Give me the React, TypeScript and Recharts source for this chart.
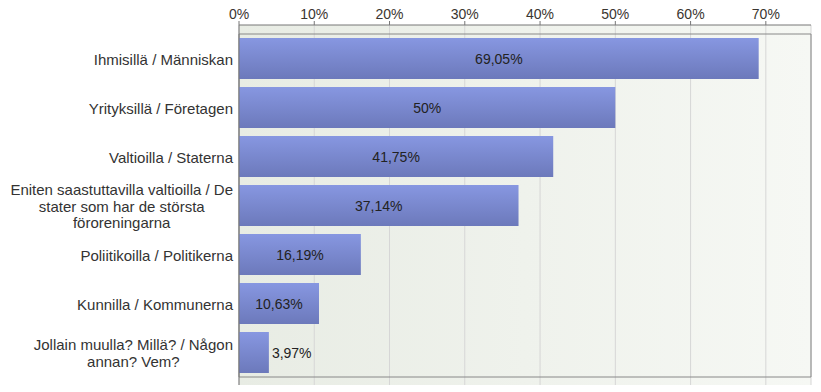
import { BarChart, Bar, XAxis, YAxis, CartesianGrid, ReferenceArea, LabelList } from "recharts";

const categories = [
  "Ihmisillä / Människan",
  "Yrityksillä / Företagen",
  "Valtioilla / Staterna",
  "Eniten saastuttavilla valtioilla / De\nstater som har de största\nföroreningarna",
  "Poliitikoilla / Politikerna",
  "Kunnilla / Kommunerna",
  "Jollain muulla? Millä? / Någon\nannan? Vem?",
];
const values = [69.05, 50, 41.75, 37.14, 16.19, 10.63, 3.97];
const xTicks = [0, 10, 20, 30, 40, 50, 60, 70];

const FONT = "Liberation Sans, Arial, sans-serif";
const CAT_SIZE = 15;

const data = categories.map((name, i) => ({ name, value: values[i] }));

// measure text so that multi-line labels are centred in a right-aligned block
const canvas = typeof document !== "undefined" ? document.createElement("canvas") : null;
const ctx = canvas ? canvas.getContext("2d") : null;
function textWidth(s: string) {
  if (!ctx) return s.length * 7.5;
  ctx.font = `${CAT_SIZE}px 'Liberation Sans'`;
  return ctx.measureText(s).width;
}

const fmt = (v: number) => `${String(v).replace(".", ",")}%`;

function CategoryTick(props: any) {
  const { x, y, payload } = props;
  const lines: string[] = String(payload.value).split("\n");
  const maxW = Math.max(...lines.map(textWidth));
  const cx = x - maxW / 2;
  const lh = 16.5;
  const startY = y - ((lines.length - 1) * lh) / 2;
  return (
    <text x={cx} textAnchor="middle" fill="#333" fontSize={CAT_SIZE} fontFamily={FONT} dominantBaseline="central">
      {lines.map((l, i) => (
        <tspan key={i} x={cx} y={startY + i * lh}>
          {l}
        </tspan>
      ))}
    </text>
  );
}

function ValueLabel(props: any) {
  const { x, y, width, height, value } = props;
  const outside = width < 40;
  return (
    <text
      x={outside ? x + width + 3 : x + width / 2}
      y={y + height / 2}
      textAnchor={outside ? "start" : "middle"}
      dominantBaseline="central"
      fill="#222"
      fontSize={14}
      fontFamily={FONT}
    >
      {fmt(value)}
    </text>
  );
}

export default function App() {
  return (
    <div style={{ position: "absolute", left: 0, top: 0, width: 821, height: 392, background: "#fff" }}>
      <BarChart
        width={821}
        height={392}
        data={data}
        layout="vertical"
        margin={{ top: 0, right: 10, left: 0, bottom: 7 }}
        barSize={41}
      >
        <defs>
          <linearGradient id="bg" x1="0" y1="0" x2="1" y2="0">
            <stop offset="0%" stopColor="#e8ece4" />
            <stop offset="100%" stopColor="#f6f8f4" />
          </linearGradient>
          <linearGradient id="barFill" x1="0" y1="0" x2="0" y2="1">
            <stop offset="0%" stopColor="#8797e1" />
            <stop offset="100%" stopColor="#6c79bb" />
          </linearGradient>
        </defs>
        <CartesianGrid horizontal={false} stroke="#d6d6d6" fill="url(#bg)" />
        <XAxis
          type="number"
          orientation="top"
          domain={[0, 76]}
          ticks={xTicks}
          tickFormatter={(v: number) => `${v}%`}
          height={25}
          tickSize={4}
          axisLine={{ stroke: "#777" }}
          tickLine={{ stroke: "#777" }}
          tick={{ fill: "#3a3530", fontSize: 14, fontFamily: FONT }}
        />
        <YAxis
          type="category"
          dataKey="name"
          width={239}
          axisLine={{ stroke: "#777" }}
          tickLine={false}
          tickMargin={0}
          padding={{ top: 9, bottom: 8 }}
          tick={<CategoryTick />}
          interval={0}
        />
        <ReferenceArea x1={0} x2={76} fill="none" fillOpacity={0} stroke="#888" ifOverflow="extendDomain" />
        <Bar dataKey="value" fill="url(#barFill)" isAnimationActive={false}>
          <LabelList dataKey="value" content={<ValueLabel />} />
        </Bar>
      </BarChart>
    </div>
  );
}
